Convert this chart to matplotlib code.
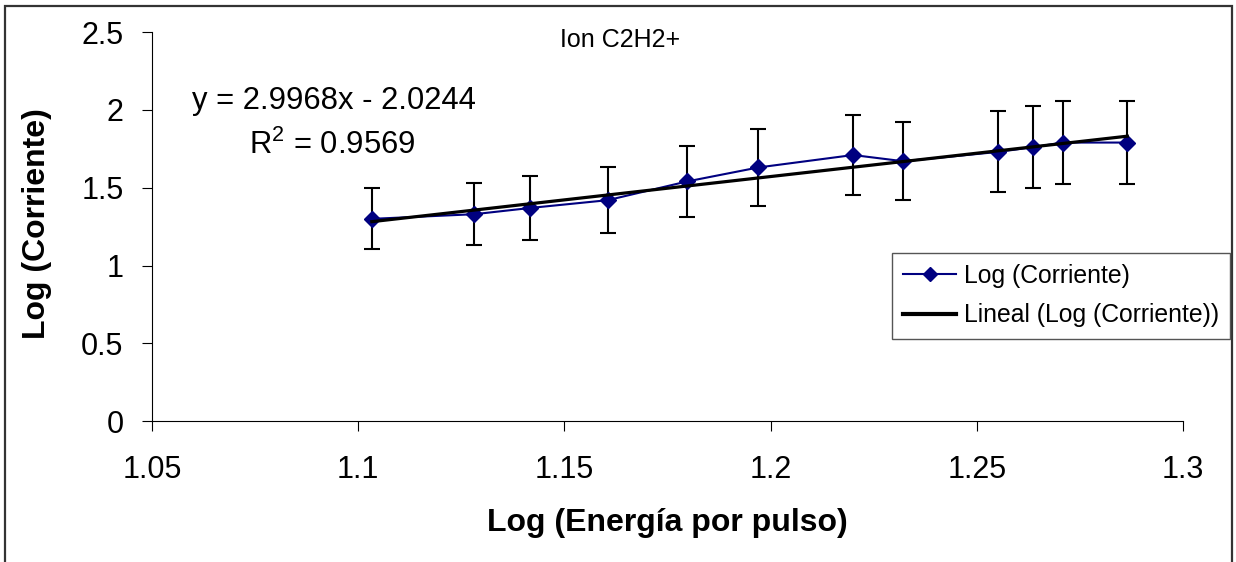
import matplotlib
matplotlib.use("Agg")
import matplotlib.pyplot as plt
from matplotlib.patches import Rectangle
from matplotlib.lines import Line2D
import numpy as np

plt.rcParams['font.family'] = ['Liberation Sans', 'DejaVu Sans']
plt.rcParams['mathtext.default'] = 'regular'

# log of pulse energy vs log of ion current
log_energia = [1.1033, 1.1282, 1.1417, 1.1605, 1.1797, 1.1970,
               1.2200, 1.2322, 1.2552, 1.2636, 1.2708, 1.2865]
log_corriente = [1.30, 1.33, 1.37, 1.42, 1.54, 1.63,
                 1.71, 1.67, 1.73, 1.76, 1.79, 1.79]
error = [0.195, 0.20, 0.205, 0.213, 0.231, 0.245,
         0.257, 0.25, 0.26, 0.264, 0.268, 0.268]

# linear trendline
pendiente = 2.9968
ordenada = -2.0244
r2 = 0.9569

xticks = [1.05, 1.1, 1.15, 1.2, 1.25, 1.3]
xticklabels = ['1.05', '1.1', '1.15', '1.2', '1.25', '1.3']
yticks = [0, 0.5, 1, 1.5, 2, 2.5]
yticklabels = ['0', '0.5', '1', '1.5', '2', '2.5']

W, H = 1236, 562
fig = plt.figure(figsize=(W / 100, H / 100), dpi=100)
ax = fig.add_axes([152 / W, 1 - 421.3 / H, (1183 - 152) / W, (421.3 - 32) / H])

ax.errorbar(log_energia, log_corriente, yerr=error, fmt='none',
            ecolor='black', elinewidth=1.5, capsize=6, capthick=1.5, zorder=2)
ax.plot(log_energia, log_corriente, color='#000080', lw=1.5,
        marker='D', markersize=7.8, zorder=3)

xt = np.array([log_energia[0], log_energia[-1]])
ax.plot(xt, pendiente * xt + ordenada, color='black', lw=2.3, zorder=4)

ax.set_xlim(1.05, 1.3)
ax.set_ylim(0, 2.5)
ax.set_xticks(xticks)
ax.set_xticklabels(xticklabels)
ax.set_yticks(yticks)
ax.set_yticklabels(yticklabels)
ax.tick_params(axis='both', direction='out', length=7.5, width=0.8, labelsize=22)
ax.tick_params(axis='x', pad=17)
ax.tick_params(axis='y', pad=13)
for s in ['top', 'right']:
    ax.spines[s].set_visible(False)
for s in ['left', 'bottom']:
    ax.spines[s].set_linewidth(0.8)

fig.text(667 / W, 1 - 523 / H, 'Log (Energía por pulso)', fontsize=23,
         fontweight='bold', ha='center', va='center')
fig.text(37 / W, 1 - 224 / H, 'Log (Corriente)', fontsize=23,
         fontweight='bold', ha='center', va='center', rotation=90)
fig.text(620 / W, 1 - 40 / H, 'Ion C2H2+', fontsize=18, ha='center', va='center')
fig.text(334 / W, 1 - 101 / H, f'y = {pendiente}x - {abs(ordenada)}',
         fontsize=22.3, ha='center', va='center')
fig.text(332 / W, 1 - 145 / H, f'R$^2$ = {r2}', fontsize=22.3,
         ha='center', va='center')

handles = [Line2D([], [], color='#000080', lw=1.5, marker='D', markersize=7.5),
           Line2D([], [], color='black', lw=3)]
leg = fig.legend(handles, ['Log (Corriente)', 'Lineal (Log (Corriente))'],
                 loc='upper left', bbox_to_anchor=(892 / W, 1 - 253 / H),
                 fontsize=17.8, frameon=True, fancybox=False, framealpha=1,
                 edgecolor='#555555', handlelength=2.15, handletextpad=0.3,
                 borderpad=0.45, labelspacing=0.62, borderaxespad=0)
leg.get_frame().set_linewidth(1)

# chart border
fig.patches.append(Rectangle((5 / W, -0.2), (1232 - 5) / W, 1.2 - 6 / H,
                             transform=fig.transFigure, fill=False,
                             edgecolor='#333333', lw=1.6))

fig.savefig('out.png', dpi=100)
